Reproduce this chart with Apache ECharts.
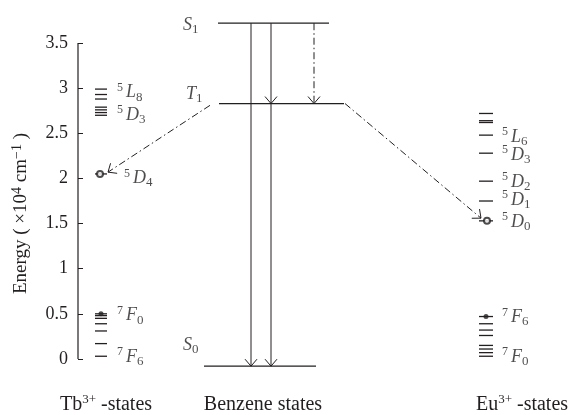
<!DOCTYPE html>
<html lang="en">
<head>
<meta charset="UTF-8">
<script src="https://cdn.jsdelivr.net/npm/echarts@6/dist/echarts.min.js"></script>
<style>
  html, body { margin: 0; padding: 0; background: #fff; }
  #chart { width: 572px; height: 415px; }
</style>
</head>
<body>
<div id="chart"></div>
<script>
// energies in units of 10^4 cm^-1
const tbUpper = [2.99, 2.93, 2.88, 2.79, 2.76, 2.73, 2.70];
const tb5D4 = 2.05;
const tbLower = [0.50, 0.48, 0.45, 0.39, 0.31, 0.17, 0.03];
const euUpper = [2.72, 2.64, 2.62, 2.48, 2.28, 1.97, 1.75];
const eu5D0 = 1.53;
const euLower = [0.47, 0.39, 0.32, 0.26, 0.15, 0.11, 0.07, 0.03];
const benzS1 = 3.72, benzT1 = 2.83, benzS0 = -0.08;
const yTicks = [0, 0.5, 1, 1.5, 2, 2.5, 3, 3.5];
const columnNames = ['{n|Tb}{s|3+}{n| -states}', '{n|Benzene states}', '{n|Eu}{s|3+}{n| -states}'];
const tbTerms = ['5L8', '5D3', '5D4', '7F0', '7F6'];
const euTerms = ['5L6', '5D3', '5D2', '5D1', '5D0', '7F6', '7F0'];
const benzTerms = ['S1', 'T1', 'S0'];

// layout (x in px from the energy axis)
const TB = [17, 29], EU = [401, 415];
const columnAt = [28, 185, 444];
const tbTermAt = [[39, 2.95], [39, 2.70], [46, 2.00], [39, 0.48], [39, 0.02]];
const euTermAt = [[424, 2.46], [424, 2.26], [424, 1.96], [424, 1.76], [424, 1.52], [424, 0.46], [424, 0.02]];
const benzTermAt = [[105, 3.70], [108, 2.93], [105, 0.155]];

const INK = '#231f20';
const SERIF = '"Liberation Serif", "DejaVu Serif", serif';

const levels = []
  .concat(tbUpper.map(y => [TB[0], TB[1], y]))
  .concat([[TB[0], TB[1], tb5D4]])
  .concat(tbLower.map(y => [TB[0], TB[1], y]))
  .concat(euUpper.map(y => [EU[0], EU[1], y]))
  .concat([[EU[0], EU[1], eu5D0]])
  .concat(euLower.map(y => [EU[0], EU[1], y]))
  .concat([[140, 251, benzS1], [141, 266, benzT1], [126, 238, benzS0]]);

// [x0, y0, x1, y1, dashed]
const arrows = [
  [173, benzS1, 173, benzS0, 0],
  [193, benzS1, 193, benzT1, 0],
  [193, benzT1, 193, benzS0, 0],
  [236, benzS1, 236, benzT1, 1],
  [132, 2.81, 30, 2.07, 1],
  [267, 2.83, 403, 1.56, 1]
];

function termRich(t) {
  if (/^[STU]/.test(t)) return '{it|' + t[0] + '}{sub|' + t.slice(1) + '}';
  return '{sup|' + t[0] + ' }{it|' + t[1] + '}{sub|' + t.slice(2) + '}';
}

const labelData = []
  .concat(tbTerms.map((t, i) => ({ value: tbTermAt[i], name: termRich(t) })))
  .concat(euTerms.map((t, i) => ({ value: euTermAt[i], name: termRich(t) })))
  .concat(benzTerms.map((t, i) => ({ value: benzTermAt[i], name: termRich(t) })));

const rich = {
  it: { fontFamily: SERIF, fontStyle: 'italic', fontSize: 18, lineHeight: 22, color: INK },
  sup: { fontFamily: SERIF, fontSize: 12, lineHeight: 11, verticalAlign: 'top', color: INK },
  sub: { fontFamily: SERIF, fontSize: 13, lineHeight: 12, verticalAlign: 'bottom', color: INK }
};

function renderLevel(params, api) {
  const a = api.coord([api.value(0), api.value(2)]);
  const b = api.coord([api.value(1), api.value(2)]);
  return {
    type: 'line',
    shape: { x1: a[0], y1: a[1], x2: b[0], y2: b[1] },
    style: { stroke: INK, lineWidth: 1.3 }
  };
}

function renderArrow(params, api) {
  const p0 = api.coord([api.value(0), api.value(1)]);
  const p1 = api.coord([api.value(2), api.value(3)]);
  const dashed = api.value(4) === 1;
  const dx = p1[0] - p0[0], dy = p1[1] - p0[1];
  const len = Math.hypot(dx, dy);
  const ux = dx / len, uy = dy / len;
  const L = 7, W = 6;
  const bx = p1[0] - ux * L, by = p1[1] - uy * L;
  return {
    type: 'group',
    children: [
      { type: 'line', shape: { x1: p0[0], y1: p0[1], x2: p1[0], y2: p1[1] },
        style: { stroke: INK, lineWidth: 1, lineDash: dashed ? [7, 3, 1.5, 3] : null } },
      { type: 'polyline',
        shape: { points: [[bx - uy * W, by + ux * W], [p1[0], p1[1]], [bx + uy * W, by - ux * W]] },
        style: { stroke: INK, fill: null, lineWidth: 1 } }
    ]
  };
}

const axisRich = {
  n: { fontFamily: SERIF, fontSize: 20, lineHeight: 24, color: INK },
  s: { fontFamily: SERIF, fontSize: 13, lineHeight: 13, verticalAlign: 'top', color: INK }
};

const chart = echarts.init(document.getElementById('chart'));
chart.setOption({
  animation: false,
  grid: { left: 78, right: 0, top: 16, bottom: 38 },
  xAxis: {
    type: 'value', min: 0, max: 494,
    axisLine: { show: false }, axisTick: { show: false }, splitLine: { show: false },
    axisLabel: {
      customValues: columnAt,
      margin: 16,
      formatter: (v, i) => {
        const k = columnAt.indexOf(v);
        return columnNames[k >= 0 ? k : i];
      },
      rich: axisRich
    }
  },
  yAxis: {
    type: 'value', min: -0.2, max: 3.8,
    axisLine: { show: false }, splitLine: { show: false },
    axisTick: { show: true, inside: true, length: 5, customValues: yTicks,
      lineStyle: { color: INK, width: 1 } },
    axisLabel: { customValues: yTicks, margin: 10, formatter: v => String(v),
      fontFamily: SERIF, fontSize: 18, color: INK },
    name: '{n|Energy ( ×10}{s|4}{n| cm}{s|−1}{n| )}',
    nameLocation: 'middle', nameRotate: 90, nameGap: 46,
    nameTextStyle: {
      padding: [0, 34, 0, 0],
      rich: {
        n: { fontFamily: SERIF, fontSize: 19, lineHeight: 22, color: INK },
        s: { fontFamily: SERIF, fontSize: 14, lineHeight: 12, verticalAlign: 'top', color: INK }
      }
    }
  },
  series: [
    { type: 'line', data: [[0, 0], [0, 3.5]], symbol: 'none', silent: true,
      lineStyle: { color: INK, width: 1.2 } },
    { type: 'custom', renderItem: renderLevel, data: levels, silent: true,
      encode: { x: [0, 1], y: 2 } },
    { type: 'custom', renderItem: renderArrow, data: arrows, silent: true,
      encode: { x: [0, 2], y: [1, 3] } },
    { type: 'scatter', symbol: 'circle', symbolSize: 5, silent: true,
      itemStyle: { color: INK },
      data: [[23, tbLower[0]], [408, euLower[0]]] },
    { type: 'scatter', symbol: 'emptyCircle', symbolSize: 6, silent: true,
      itemStyle: { color: INK, borderColor: INK, borderWidth: 1 },
      data: [[22, tb5D4], [409, eu5D0]] },
    { type: 'scatter', symbolSize: 0, silent: true, data: labelData,
      label: { show: true, position: [0, 0], align: 'left', verticalAlign: 'middle',
        formatter: p => p.name, rich: rich } }
  ]
});
</script>
</body>
</html>
